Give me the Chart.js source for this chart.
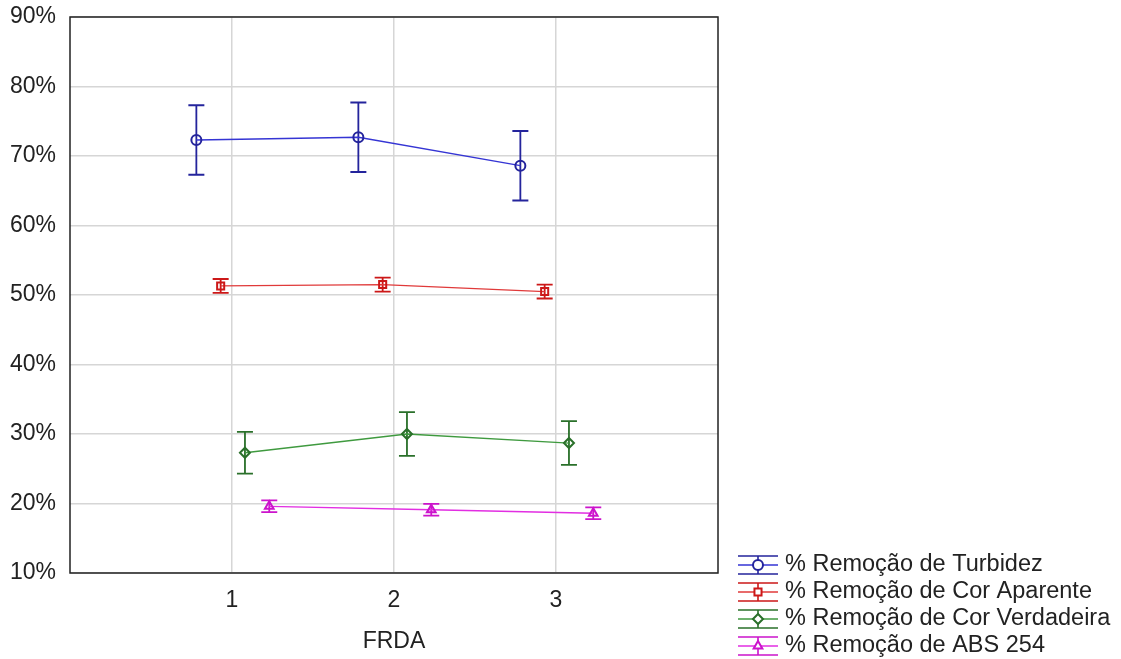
<!DOCTYPE html>
<html lang="pt">
<head>
<meta charset="UTF-8">
<script src="https://cdn.jsdelivr.net/npm/chart.js@4.4.1/dist/chart.umd.min.js"></script>
<title>FRDA</title>
<style>
  body { margin: 0; background: #fff; font-family: "Liberation Sans", Arial, sans-serif; }
  #wrap { width: 1121px; height: 659px; position: relative; }
</style>
</head>
<body>
<div id="wrap"><canvas id="chart"></canvas></div>
<script>
// categories on the FRDA axis
var frda = [1, 2, 3];
var xTicks = ['1', '2', '3'];

// means (%) and error half-widths (%)
var turbidez = [72.3, 72.7, 68.6];
var turbidezErr = [5.0, 5.0, 5.0];
var corAparente = [51.3, 51.5, 50.5];
var corAparenteErr = [1.0, 1.0, 1.0];
var corVerdadeira = [27.3, 30.0, 28.7];
var corVerdadeiraErr = [3.0, 3.15, 3.15];
var abs254 = [19.6, 19.1, 18.6];
var abs254Err = [0.85, 0.85, 0.85];

var labels = ['% Remoção de Turbidez', '% Remoção de Cor Aparente',
              '% Remoção de Cor Verdadeira', '% Remoção de ABS 254'];

// horizontal shift of each series around the category (dodge)
var dodge = [-0.22, -0.07, 0.08, 0.23];
var lineColors = ['#3535d4', '#e03a3a', '#3f9a3f', '#e22ee2'];
var barColors = ['#24249c', '#cc1818', '#2a702a', '#cc14cc'];
var styles = ['circle', 'rect', 'rectRot', 'triangle'];
var means = [turbidez, corAparente, corVerdadeira, abs254];
var errs = [turbidezErr, corAparenteErr, corVerdadeiraErr, abs254Err];

var FONT = '"Liberation Sans", Arial, sans-serif';

var datasets = means.map(function (m, i) {
    return {
        label: labels[i],
        data: frda.map(function (c, j) { return { x: c + dodge[i], y: m[j] }; }),
        errs: errs[i],
        showLine: true,
        borderColor: lineColors[i],
        borderWidth: 1.3,
        pointStyle: styles[i],
        pointRadius: 5,
        pointBorderColor: barColors[i],
        pointBackgroundColor: 'rgba(255,255,255,0)',
        pointBorderWidth: 2
    };
});

// error bars under the markers, frame and legend on top
var errorBars = {
    id: 'errorBars',
    beforeDatasetsDraw: function (chart) {
        var ctx = chart.ctx, xs = chart.scales.x, ys = chart.scales.y;
        ctx.save();
        chart.data.datasets.forEach(function (ds, i) {
            ctx.strokeStyle = barColors[i];
            ctx.lineWidth = 1.8;
            ds.data.forEach(function (p, j) {
                var px = xs.getPixelForValue(p.x);
                var top = ys.getPixelForValue(p.y + ds.errs[j]);
                var bot = ys.getPixelForValue(p.y - ds.errs[j]);
                ctx.beginPath();
                ctx.moveTo(px, top); ctx.lineTo(px, bot);
                ctx.moveTo(px - 8, top); ctx.lineTo(px + 8, top);
                ctx.moveTo(px - 8, bot); ctx.lineTo(px + 8, bot);
                ctx.stroke();
            });
        });
        ctx.restore();
    },
    afterDraw: function (chart) {
        var ctx = chart.ctx, a = chart.chartArea;
        ctx.save();
        // plot frame
        ctx.strokeStyle = '#222';
        ctx.lineWidth = 1.5;
        ctx.strokeRect(a.left, a.top, a.right - a.left, a.bottom - a.top);
        // legend, bottom right
        var x0 = 738, y0 = 565, step = 27;
        ctx.font = '23.5px ' + FONT;
        ctx.textBaseline = 'middle';
        chart.data.datasets.forEach(function (ds, i) {
            var y = y0 + i * step, cx = x0 + 20;
            ctx.strokeStyle = barColors[i];
            ctx.lineWidth = 1.6;
            ctx.beginPath();
            ctx.moveTo(x0, y - 9); ctx.lineTo(x0 + 40, y - 9);
            ctx.moveTo(x0, y + 9); ctx.lineTo(x0 + 40, y + 9);
            ctx.moveTo(cx, y - 9); ctx.lineTo(cx, y + 9);
            ctx.stroke();
            ctx.strokeStyle = lineColors[i];
            ctx.beginPath();
            ctx.moveTo(x0, y); ctx.lineTo(x0 + 40, y);
            ctx.stroke();
            ctx.strokeStyle = barColors[i];
            ctx.fillStyle = '#fff';
            ctx.lineWidth = 2;
            Chart.helpers.drawPoint(ctx, { pointStyle: styles[i], radius: 5, borderWidth: 2 }, cx, y);
            ctx.fillStyle = '#222';
            ctx.fillText(ds.label, x0 + 47, y);
        });
        ctx.restore();
    }
};

new Chart(document.getElementById('chart'), {
    type: 'scatter',
    data: { datasets: datasets },
    plugins: [errorBars],
    options: {
        responsive: true,
        maintainAspectRatio: false,
        animation: false,
        layout: { padding: { top: 17, right: 403, bottom: 0, left: 0 } },
        plugins: { legend: { display: false }, tooltip: { enabled: false } },
        scales: {
            x: {
                type: 'linear', min: 0, max: 4,
                afterFit: function (s) { s.height = 86; s.paddingLeft = 0; s.paddingRight = 0; },
                ticks: {
                    stepSize: 1,
                    color: '#222',
                    font: { family: FONT, size: 23 },
                    padding: 14,
                    callback: function (v) { return (v >= 1 && v <= 3) ? xTicks[v - 1] : ''; }
                },
                grid: {
                    drawTicks: false,
                    color: function (c) { return (c.tick && c.tick.value >= 1 && c.tick.value <= 3) ? '#d6d6d6' : 'rgba(0,0,0,0)'; },
                    lineWidth: 1.5
                },
                border: { display: false },
                title: { display: true, text: 'FRDA', color: '#222', font: { family: FONT, size: 23 }, padding: { top: 12 } }
            },
            y: {
                min: 10, max: 90,
                afterFit: function (s) { s.width = 70; s.paddingTop = 0; s.paddingBottom = 0; },
                ticks: {
                    stepSize: 10,
                    color: '#222',
                    font: { family: FONT, size: 23 },
                    padding: 14,
                    callback: function (v) { return v + '%'; }
                },
                grid: { drawTicks: false, color: '#d6d6d6', lineWidth: 1.5 },
                border: { display: false }
            }
        }
    }
});
</script>
</body>
</html>
